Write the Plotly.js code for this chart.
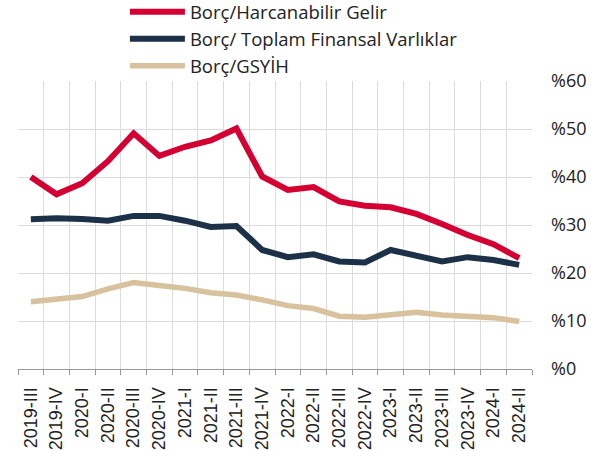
<!DOCTYPE html>
<html>
<head>
<meta charset="utf-8">
<script src="https://cdn.plot.ly/plotly-3.0.1.min.js"></script>
<style>html,body{margin:0;padding:0;background:#fff;}#chart{width:608px;height:451px;}</style>
</head>
<body>
<div id="chart"></div>
<script>
const categories = ["2019-III","2019-IV","2020-I","2020-II","2020-III","2020-IV","2021-I","2021-II","2021-III","2021-IV","2022-I","2022-II","2022-III","2022-IV","2023-I","2023-II","2023-III","2023-IV","2024-I","2024-II"];
const borcHarcanabilirGelir = [40.0,36.4,38.7,43.3,49.1,44.4,46.3,47.6,50.1,40.1,37.3,37.9,34.9,34.0,33.7,32.3,30.2,27.9,26.0,23.1];
const borcToplamFinansal = [31.2,31.4,31.25,30.9,31.9,31.9,30.9,29.6,29.8,24.8,23.3,23.9,22.4,22.2,24.8,23.6,22.4,23.3,22.7,21.7];
const borcGSYIH = [14.0,14.6,15.1,16.7,18.0,17.4,16.8,15.9,15.4,14.4,13.2,12.6,11.0,10.8,11.4,11.8,11.25,10.9,10.7,9.9];
const seriesNames = ["Borç/Harcanabilir Gelir","Borç/ Toplam Finansal Varlıklar","Borç/GSYİH"];
const yTickVals = [0,10,20,30,40,50,60];
const yTickText = yTickVals.map(v => '%' + v);

const colors = ["#d50032","#1c3048","#d8c29d"];
const values = [borcHarcanabilirGelir, borcToplamFinansal, borcGSYIH];
const widths = [6,6,5.5];

const traces = values.map((v,i)=>({
  x: categories, y: v, type:'scatter', mode:'lines', name: seriesNames[i],
  legendgroup: 'g'+i,
  line:{color:colors[i], width:widths[i]}
}));

const layout = {
  width:608, height:451,
  margin:{l:18, r:76, t:81, b:82, autoexpand:false},
  paper_bgcolor:'#fff', plot_bgcolor:'#fff',
  font:{family:'"Open Sans", sans-serif', color:'#222', size:18},
  showlegend:true,
  legend:{
    x:0.208, y:1.305, xanchor:'left', yanchor:'top',
    traceorder:'grouped', tracegroupgap:0, itemwidth:55,
    font:{size:18.5, color:'#222'}, bgcolor:'rgba(0,0,0,0)'
  },
  xaxis:{
    type:'category', tickson:'boundaries', ticks:'outside', ticklen:5, tickcolor:'#999',
    showline:true, linecolor:'#999', linewidth:1,
    showgrid:true, gridcolor:'#dcdcdc', gridwidth:1,
    tickangle:-90, tickfont:{family:'"Liberation Sans", Arial, sans-serif', size:18, color:'#222'},
    ticklabelstandoff:10,
    range:[-0.5, categories.length-0.5], zeroline:false, fixedrange:true,
    automargin:false, dtick:1
  },
  yaxis:{
    side:'right', range:[0,60], tickmode:'array', tickvals:yTickVals, ticktext:yTickText,
    showgrid:true, gridcolor:'#dcdcdc', gridwidth:1, zeroline:false,
    showline:false, ticks:'', ticklabelstandoff:18, automargin:false,
    tickfont:{size:18, color:'#222'}, fixedrange:true
  }
};

Plotly.newPlot('chart', traces, layout, {displayModeBar:false, staticPlot:true});
</script>
</body>
</html>
